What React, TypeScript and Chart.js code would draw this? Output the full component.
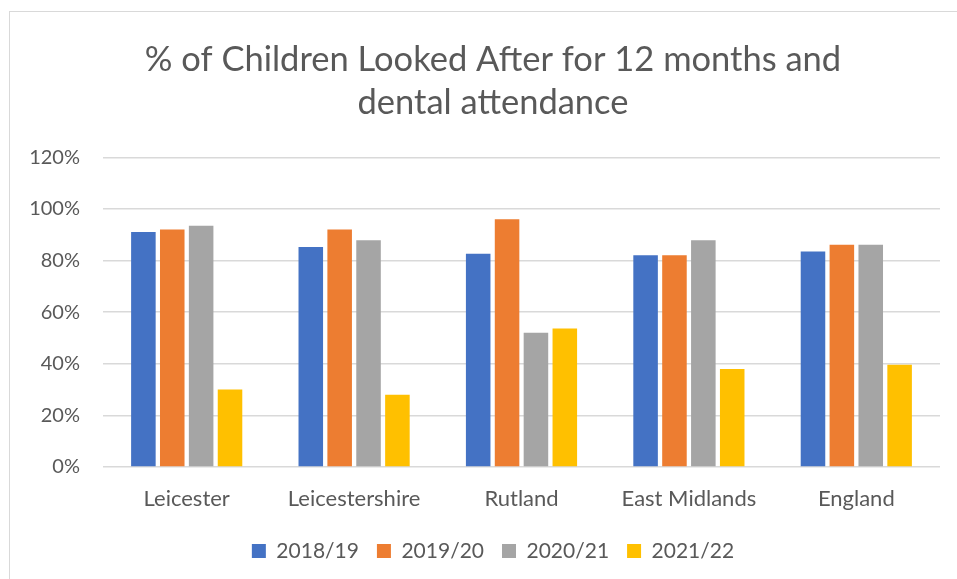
import React, { useEffect, useRef } from "react";
import { Chart, registerables } from "chart.js";

Chart.register(...registerables);

const categories = ["Leicester", "Leicestershire", "Rutland", "East Midlands", "England"];
const seriesNames = ["2018/19", "2019/20", "2020/21", "2021/22"];
const values2018 = [91, 85.2, 82.6, 82, 83.5];
const values2019 = [92, 92, 96, 82, 86.1];
const values2020 = [93.5, 87.8, 52, 87.8, 86.1];
const values2021 = [30, 28, 53.7, 38, 39.6];
const seriesColors = ["#4472C4", "#ED7D31", "#A5A5A5", "#FFC000"];
const titleLines = ["% of Children Looked After for 12 months and", "dental attendance"];

const FONT = "Lato, 'Liberation Sans', sans-serif";
const TEXT = "#595959";
const CANVAS_W = 990;

export default function App() {
  const ref = useRef<HTMLCanvasElement | null>(null);

  useEffect(() => {
    if (!ref.current) return;
    const all = [values2018, values2019, values2020, values2021];
    const chart = new Chart(ref.current, {
      type: "bar",
      data: {
        labels: categories,
        datasets: all.map((v, i) => ({
          label: seriesNames[i],
          data: v,
          backgroundColor: seriesColors[i],
          borderWidth: 0,
          categoryPercentage: 0.69,
          barPercentage: 0.85,
        })),
      },
      options: {
        animation: false,
        responsive: false,
        maintainAspectRatio: false,
        layout: { padding: { left: 0, right: 4, top: 0, bottom: 7.5 } },
        plugins: {
          title: {
            display: true,
            text: titleLines,
            color: TEXT,
            font: { family: FONT, size: 34.5, weight: "normal", lineHeight: 1.25 },
            padding: { top: 38.4, bottom: 32.6 },
          },
          legend: {
            position: "bottom",
            labels: {
              color: TEXT,
              font: { family: FONT, size: 21 },
              boxWidth: 14,
              boxHeight: 14,
              padding: 18,
            },
          },
          tooltip: { enabled: false },
        },
        scales: {
          x: {
            afterFit: (s: any) => {
              s.height = 55.5;
            },
            grid: { display: false },
            border: { display: false },
            ticks: { color: TEXT, font: { family: FONT, size: 22 }, padding: 11 },
          },
          y: {
            min: 0,
            max: 120,
            afterFit: (s: any) => {
              s.width = 103;
            },
            grid: { color: "#d9d9d9", lineWidth: 1.5, drawTicks: false },
            border: { display: false },
            ticks: {
              stepSize: 20,
              color: TEXT,
              font: { family: FONT, size: 20 },
              padding: 23,
              callback: (v: any) => v + "%",
            },
          },
          y2: {
            type: "linear",
            position: "right",
            afterFit: (s: any) => {
              s.width = 46;
            },
            grid: { display: false },
            border: { display: false },
            ticks: { display: false },
          },
        },
      },
    });
    return () => chart.destroy();
  }, []);

  return (
    <div
      style={{
        position: "fixed",
        left: 0,
        top: 0,
        width: 957,
        height: 579,
        background: "#fff",
        overflow: "hidden",
      }}
    >
      <div
        style={{
          position: "absolute",
          left: 9,
          top: 11,
          right: -5,
          bottom: -5,
          borderLeft: "1.5px solid #d9d9d9",
          borderTop: "1.5px solid #d9d9d9",
        }}
      />
      <canvas
        ref={ref}
        width={CANVAS_W}
        height={579}
        style={{ position: "absolute", left: 0, top: 0 }}
      />
    </div>
  );
}
